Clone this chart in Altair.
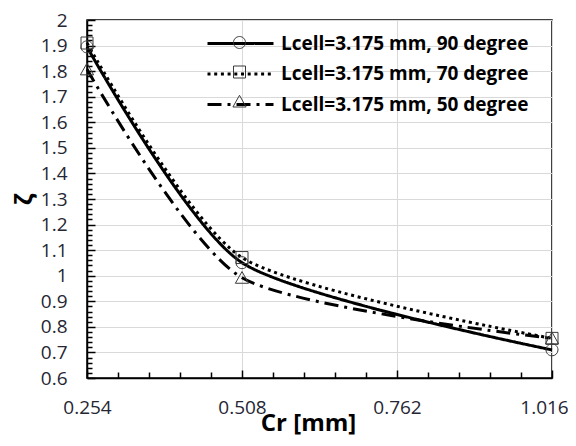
import altair as alt
import pandas as pd

# ---- data ----
x_cr = [0.254, 0.508, 1.016]
zeta_90 = [1.895, 1.051, 0.71]
zeta_70 = [1.91, 1.071, 0.755]
zeta_50 = [1.807, 0.992, 0.755]
series_names = [
    "Lcell=3.175 mm, 90 degree",
    "Lcell=3.175 mm, 70 degree",
    "Lcell=3.175 mm, 50 degree",
]
x_major = [0.254, 0.508, 0.762, 1.016]
y_major = [0.6, 0.7, 0.8, 0.9, 1.0, 1.1, 1.2, 1.3, 1.4, 1.5, 1.6, 1.7, 1.8, 1.9, 2.0]
x_minor = [round(0.254 + 0.0508 * i, 4) for i in range(16)]
y_minor = [round(0.6 + 0.02 * i, 2) for i in range(71)]

# marker legend uses a separate (trailing-space) domain so it is not merged with the line legend
marker_names = [n + " " for n in series_names]

rows = []
for name, mname, vals in zip(series_names, marker_names, [zeta_90, zeta_70, zeta_50]):
    for x, v in zip(x_cr, vals):
        rows.append({"Cr": x, "zeta": v, "series": name, "series_m": mname})
df = pd.DataFrame(rows)

W, H = 465, 358
FONT = "Open Sans"
LABEL_COLOR = "#262633"

xs = alt.Scale(domain=[0.254, 1.016], nice=False, zero=False)
ys = alt.Scale(domain=[0.6, 2.0], nice=False, zero=False)

dash_scale = alt.Scale(domain=series_names, range=[[1, 0], [3, 3.7], [14, 6, 3, 6]])
shape_paths = [
    "M0.6,0A0.6,0.6,0,1,1,-0.6,0A0.6,0.6,0,1,1,0.6,0Z",
    "M-0.6,-0.6L0.6,-0.6L0.6,0.6L-0.6,0.6Z",
    "M0,-0.62L0.66,0.55L-0.66,0.55Z",
]
shape_scale = alt.Scale(domain=marker_names, range=shape_paths)

LEG_X, LEG_Y = 142, 12
legend_common = dict(
    orient="none", legendX=LEG_X, legendY=LEG_Y, title=None, symbolSize=400,
    labelFont=FONT, labelFontSize=19, labelFontWeight="bold", labelColor="black",
    labelOffset=29, rowPadding=8.5, padding=0, labelLimit=400,
)

lines = alt.Chart(df).mark_line(
    interpolate="cardinal", tension=0.3, strokeWidth=3, color="black", strokeCap="butt"
).encode(
    x=alt.X("Cr:Q", scale=xs, axis=alt.Axis(
        values=x_major, format=".3f", title="Cr [mm]", grid=True, gridColor="#d9d9d9",
        gridWidth=1, ticks=False, tickSize=0, domainColor="black", domainWidth=1.5,
        labelFont=FONT, labelFontSize=19, labelColor=LABEL_COLOR, labelPadding=20,
        labelFlush=False, labelOverlap=False,
        labelOffset={"condition": {"test": "datum.value > 1", "value": -8}, "value": 0},
        titleFont=FONT, titleFontSize=24, titleFontWeight="bold", titleColor="black",
        titleX=221, titleY=52, titleBaseline="alphabetic",
    )),
    y=alt.Y("zeta:Q", scale=ys, axis=alt.Axis(
        values=y_major, format="~g", title="ζ", grid=True, gridColor="#d9d9d9",
        gridWidth=1, ticks=False, tickSize=0, domainColor="black", domainWidth=1.5,
        labelFont=FONT, labelFontSize=19, labelColor=LABEL_COLOR, labelPadding=20,
        labelOverlap=False,
        titleFont="Noto Sans", titleFontSize=24, titleFontWeight="bold", titleColor="black",
        titlePadding=4,
    )),
    strokeDash=alt.StrokeDash("series:N", scale=dash_scale, legend=alt.Legend(
        symbolType="M-3.3,0L3.3,0", symbolStrokeWidth=3, symbolStrokeColor="black",
        **legend_common,
    )),
)

points = alt.Chart(df).mark_point(
    size=400, filled=False, color="#3a3a3a", strokeWidth=1, opacity=1
).encode(
    x=alt.X("Cr:Q", scale=xs, axis=alt.Axis(
        orient="top", offset=-H, values=x_minor, labels=False, domain=False, grid=False,
        title=None, tickColor="black", tickWidth=1.5,
        tickSize={"condition": {"test": "abs(datum.value/0.254 - round(datum.value/0.254)) < 0.001", "value": 8}, "value": 6},
    )),
    y=alt.Y("zeta:Q", scale=ys, axis=alt.Axis(
        orient="right", offset=-W, values=y_minor, labels=False, domain=False, grid=False,
        title=None, tickColor="black", tickWidth=1.5,
        tickSize={"condition": {"test": "abs(datum.value*10 - round(datum.value*10)) < 0.001", "value": 8}, "value": 5},
    )),
    shape=alt.Shape("series_m:N", scale=shape_scale, legend=alt.Legend(
        symbolStrokeWidth=1, symbolStrokeColor="#3a3a3a", labelExpr="''",
        **legend_common,
    )),
)

chart = alt.layer(lines, points).resolve_axis(
    x="independent", y="independent"
).properties(
    width=W, height=H,
    padding={"left": 79, "top": 12, "right": 16, "bottom": 60},
    autosize=alt.AutoSizeParams(type="none"),
    background="white",
).configure_view(stroke="black", strokeWidth=1.5)

chart.save("out.html", embed_options={"renderer": "svg", "actions": False})
